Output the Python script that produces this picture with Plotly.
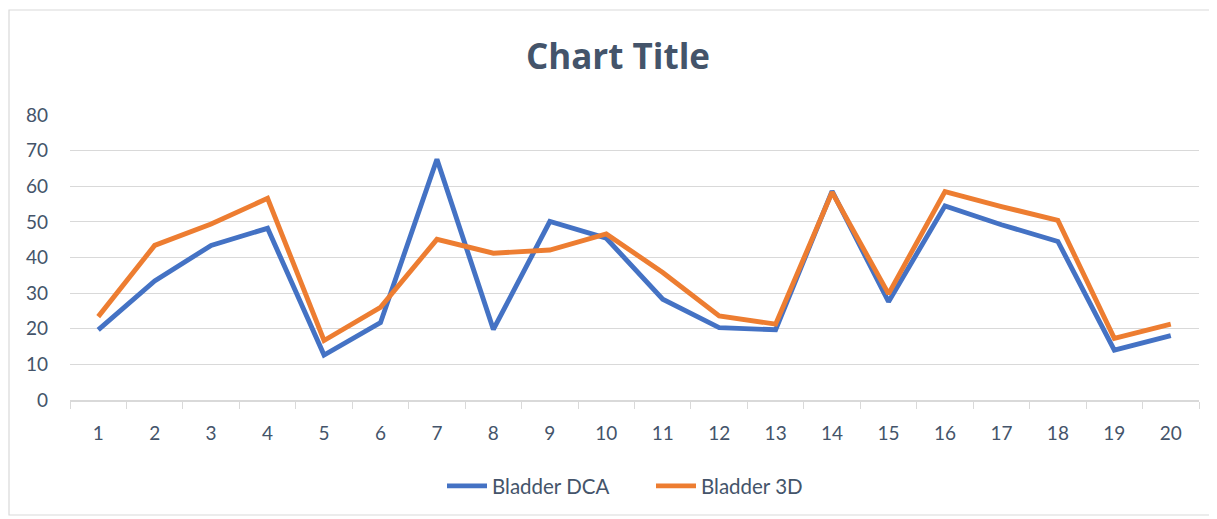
import plotly.graph_objects as go

categories = [str(i) for i in range(1, 21)]
bladder_dca = [19.7, 33.4, 43.4, 48.2, 12.6, 21.7, 67.6, 19.8, 50.1, 45.4,
               28.3, 20.3, 19.7, 58.6, 27.6, 54.5, 49.2, 44.5, 14.0, 18.1]
bladder_3d = [23.4, 43.4, 49.4, 56.6, 16.7, 26.0, 45.1, 41.2, 42.1, 46.6,
              35.8, 23.6, 21.3, 58.3, 29.8, 58.5, 54.3, 50.4, 17.3, 21.3]
y_ticks = list(range(0, 81, 10))

# page body has an 8px margin; work in page pixel coordinates and offset
OFF = 8
PAGE_W, PAGE_H = 1217, 519
W, H = PAGE_W - OFF, PAGE_H - OFF
PL, PR, PT, PB = 70, 1199, 115, 400  # plot area in page coords
L, R, T, B = PL - OFF, PAGE_W - PR, PT - OFF, PAGE_H - PB
ph = PB - PT
pw = PR - PL

def px_x(x):
    return (x - PL) / pw

def px_y(y):
    return (PB - y) / ph

text_color = "#44546A"
font_family = "Lato, 'Open Sans', sans-serif"

fig = go.Figure()
fig.add_trace(go.Scatter(x=categories, y=bladder_dca, mode="lines", name="Bladder DCA",
                         line=dict(color="#4472C4", width=4.9)))
fig.add_trace(go.Scatter(x=categories, y=bladder_3d, mode="lines", name="Bladder 3D",
                         line=dict(color="#ED7D31", width=4.9)))

fig.update_layout(
    width=W, height=H,
    margin=dict(l=L, r=R, t=T, b=B, autoexpand=False),
    paper_bgcolor="white", plot_bgcolor="white",
    font=dict(family=font_family, color=text_color, size=19),
    title=dict(text="<b>Chart Title</b>", xref="paper", x=px_x(618), xanchor="center",
               yref="container", y=1 - (57 - OFF) / H, yanchor="middle",
               font=dict(size=35, color="#44546A", family="'Open Sans', Lato, sans-serif")),
    showlegend=True,
    legend=dict(orientation="h", x=px_x(442), xanchor="left", y=px_y(486), yanchor="middle",
                font=dict(size=20.5, color="#44546A"), itemwidth=40, entrywidth=154,
                tracegroupgap=0),
    xaxis=dict(type="category", range=[-0.5, 19.5], tickson="boundaries", ticks="outside",
               ticklen=7, tickcolor="#D9D9D9", showgrid=False, showline=True,
               linecolor="#D9D9D9", linewidth=1.5, tickfont=dict(size=19, color="#44546A"),
               ticklabelstandoff=15),
    yaxis=dict(range=[0, 80], tickvals=y_ticks, showgrid=True, gridcolor="#D9D9D9",
               gridwidth=1.3, zeroline=False, showline=False, ticks="",
               tickfont=dict(size=19, color="#44546A"), ticklabelstandoff=21),
    shapes=[dict(type="rect", xref="paper", yref="paper",
                 x0=px_x(9), x1=px_x(1212), y0=px_y(515), y1=px_y(10),
                 line=dict(color="#D9D9D9", width=1.2), fillcolor="rgba(0,0,0,0)",
                 layer="below")],
)

fig.write_html("out.html")
